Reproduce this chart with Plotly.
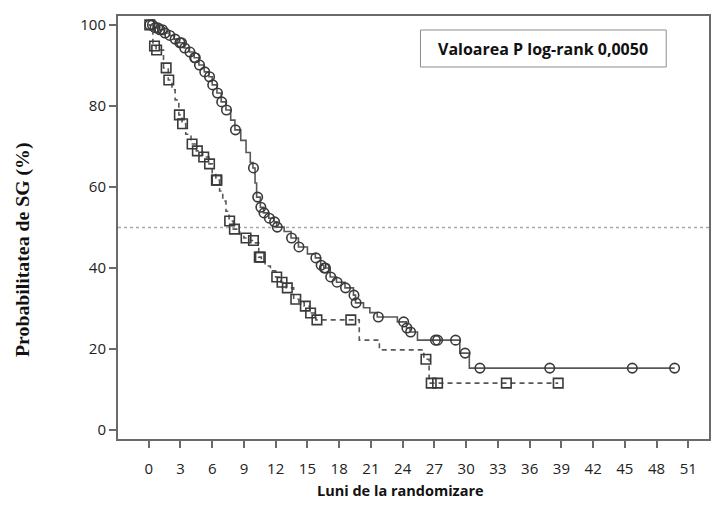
import numpy as np
import plotly.graph_objects as go

# ---------------- data ----------------
# Arm A (circles, solid line): Kaplan-Meier step knots (time in months, survival %)
circ_t = [0, 0.5, 1.0, 1.5, 1.95, 2.4, 2.9, 3.35, 3.85, 4.3, 4.75, 5.25, 5.7, 6.0, 6.45,
          6.85, 7.3, 7.75, 8.15, 8.7, 9.2, 9.6, 9.85, 10.05, 10.2, 10.55, 10.85, 11.35, 11.85, 12.1,
          12.8, 13.45, 14.15, 15.0, 15.75, 16.25, 16.55, 17.15, 17.75, 18.55, 19.35, 19.55, 20.3, 20.9, 21.6,
          23.5, 24.35, 24.7, 25.4, 29.4, 30.3]
circ_s = [100, 99.3, 98.8, 98, 97.4, 96.5, 95.6, 94.3, 93.3, 91.9, 90.1, 88.4, 87.2, 85.2, 83.2,
          81, 79, 76.5, 74.1, 71.5, 68.5, 66, 64.7, 61, 57.5, 55, 53.6, 52.3, 51.4, 50.1,
          49, 47.4, 45.2, 43.5, 42.5, 40.7, 40, 37.8, 36.5, 35.1, 33.3, 31.4, 30.2, 29.0, 27.9,
          26.7, 25.2, 24.2, 22.2, 19, 15.3]
# censoring times (circles)
circ_cens = [0.1, 0.35, 0.6, 0.85, 1.05, 1.3, 1.55, 2.0, 2.5, 2.95, 3.1, 3.4, 3.9, 4.35, 4.4, 4.8,
             5.3, 5.75, 6.05, 6.5, 6.9, 7.35, 8.2, 9.9, 10.3, 10.6, 10.9, 11.4, 11.9, 12.15, 13.5,
             14.2, 15.8, 16.3, 16.6, 16.7, 17.2, 17.8, 18.6, 19.4, 19.6, 21.7, 24.1, 24.4, 24.75,
             27.1, 27.3, 29.0, 29.9, 31.3, 37.9, 45.7, 49.7]

# Arm B (squares, dashed line)
sq_t = [0, 0.4, 0.7, 1.4, 1.85, 2.2, 2.5, 2.85, 3.15, 3.5, 4.0, 4.5, 5.1, 5.7, 6.0, 6.35, 6.7,
        7.0, 7.3, 7.6, 8.0, 8.6, 9.0, 9.6, 10.0, 10.4, 10.65, 11.0, 11.5, 12.0, 12.5, 13.0, 13.7,
        14.2, 14.7, 15.2, 15.8, 19.9, 21.8, 26.0, 26.5]
sq_s = [100, 94.8, 93.8, 89.4, 86.4, 84, 81.5, 77.8, 75.6, 73, 70.6, 68.9, 67.4, 65.7, 63.5, 61.7, 59,
        56.5, 54, 51.6, 49.6, 48.4, 47.4, 46.8, 46.2, 42.7, 41.5, 40.5, 39.3, 37.8, 36.5, 35.1, 32.3,
        31.5, 30.6, 28.9, 27.2, 22.2, 19.8, 17.5, 11.6]
sq_cens = [0.1, 0.55, 0.75, 1.65, 1.9, 2.9, 3.2, 4.1, 4.6, 5.2, 5.75, 6.4, 6.45, 7.65, 8.1, 9.2,
           9.9, 10.45, 10.55, 12.1, 12.6, 13.1, 13.9, 14.8, 15.3, 15.9, 19.1, 26.2, 26.7, 27.3,
           33.8, 38.7]

x_ticks = list(range(0, 52, 3))
y_ticks = [0, 20, 40, 60, 80, 100]
median_line = 50
p_text = "Valoarea P log-rank 0,0050"
x_title = "Luni de la randomizare"
y_title = "Probabilitatea de SG (%)"


def level_at(tk, sk, times):
    tk = np.asarray(tk, float)
    sk = np.asarray(sk, float)
    idx = np.searchsorted(tk, np.asarray(times, float), side="right") - 1
    return sk[idx]


def step_xy(tk, sk, cens):
    end = max(cens)
    x = list(tk) + [end]
    y = list(sk) + [sk[-1]]
    return x, y


fig = go.Figure()

LINE_COL = "#585858"
MARK_COL = "#3a3a3a"

cx, cy = step_xy(circ_t, circ_s, circ_cens)
fig.add_trace(go.Scatter(x=cx, y=cy, mode="lines", line=dict(shape="hv", color=LINE_COL, width=1.6),
                         showlegend=False, hoverinfo="skip"))
fig.add_trace(go.Scatter(x=circ_cens, y=level_at(circ_t, circ_s, circ_cens), mode="markers",
                         marker=dict(symbol="circle-open", size=9.5, color=MARK_COL, line=dict(width=1.6)),
                         showlegend=False))

sx, sy = step_xy(sq_t, sq_s, sq_cens)
fig.add_trace(go.Scatter(x=sx, y=sy, mode="lines",
                         line=dict(shape="hv", color=LINE_COL, width=1.6, dash="5px,4px"),
                         showlegend=False, hoverinfo="skip"))
fig.add_trace(go.Scatter(x=sq_cens, y=level_at(sq_t, sq_s, sq_cens), mode="markers",
                         marker=dict(symbol="square-open", size=9.5, color=MARK_COL, line=dict(width=1.6)),
                         showlegend=False))

# median reference line
fig.add_shape(type="line", xref="paper", x0=0, x1=1, yref="y", y0=median_line, y1=median_line,
              line=dict(color="#a8a8a8", width=1.5, dash="dot"), layer="below")

# P value box
fig.add_shape(type="rect", xref="paper", yref="paper", x0=0.5118, x1=0.9276, y0=0.8794, y1=0.9669,
              line=dict(color="#8c8c8c", width=1), fillcolor="white", layer="above")
fig.add_annotation(xref="paper", yref="paper", x=0.7197, y=0.923, text="<b>%s</b>" % p_text,
                   showarrow=False, font=dict(family="Open Sans", size=16, color="#111"),
                   xanchor="center", yanchor="middle")

# axis titles
fig.add_annotation(xref="paper", yref="paper", x=0.478, y=-0.1229, text="<b>%s</b>" % x_title,
                   showarrow=False, font=dict(family="Open Sans", size=14.5, color="#111"),
                   xanchor="center", yanchor="middle")
fig.add_annotation(xref="paper", yref="paper", x=-0.1616, y=0.448, text="<b>%s</b>" % y_title,
                   textangle=-90, showarrow=False,
                   font=dict(family="Liberation Serif", size=19.8, color="#111"),
                   xanchor="center", yanchor="middle")

axis_common = dict(showline=True, linecolor="#6a6a6a", linewidth=2, mirror=True, showgrid=False,
                   zeroline=False, ticks="outside", tickcolor="#6a6a6a", tickwidth=1.5,
                   tickfont=dict(family="Open Sans", size=15, color="#222"))

fig.update_xaxes(range=[-2.9, 52.95], tickmode="array", tickvals=x_ticks,
                 ticktext=[str(v) for v in x_ticks], ticklen=7, ticklabelstandoff=8, **axis_common)
fig.update_yaxes(range=[-2.2, 102.2], tickmode="array", tickvals=y_ticks,
                 ticktext=[str(v) for v in y_ticks], ticklen=7, **axis_common)

fig.update_layout(width=704, height=493, margin=dict(l=110, r=1, t=8, b=62),
                  paper_bgcolor="white", plot_bgcolor="white", showlegend=False)

fig.write_html("out.html")
